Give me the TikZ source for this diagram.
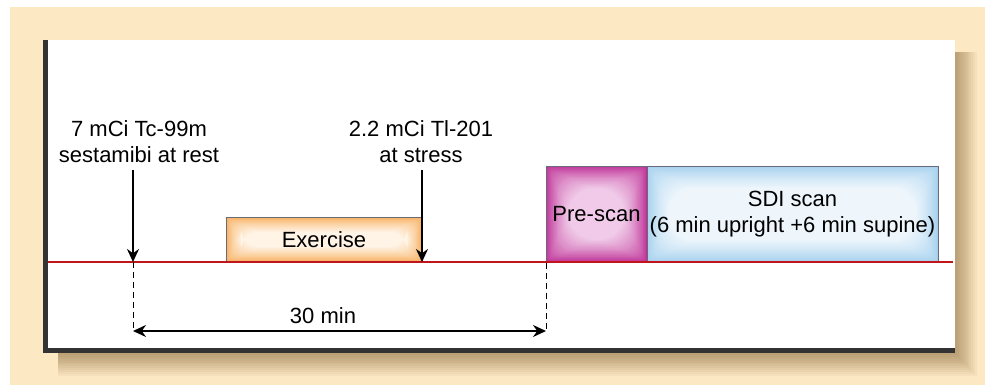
\documentclass[tikz,border=0pt]{standalone}
\usepackage{fontspec}
\setmainfont{Liberation Sans}
\usetikzlibrary{arrows.meta}
\definecolor{cream}{HTML}{FDE8C4}
\definecolor{shadowc}{HTML}{7A5A28}
\definecolor{frame}{HTML}{333333}
\definecolor{redline}{HTML}{C0161B}
\definecolor{exin}{HTML}{FFF4E6}
\definecolor{exout}{HTML}{F7AE5C}
\definecolor{psin}{HTML}{F0CAE8}
\definecolor{psout}{HTML}{BE3096}
\definecolor{sdin}{HTML}{EEF6FC}
\definecolor{sdout}{HTML}{A4D0EE}
\definecolor{boxdraw}{HTML}{6A6A78}
\tikzset{
  glow/.style n args={3}{path picture={
    \foreach \k in {0,...,20}{
      \pgfmathsetmacro\pc{100*(\k/20)^0.8}
      \pgfmathsetmacro\ins{\k*#3/20}
      \pgfmathsetmacro\rc{1.2*\ins}
      \fill[#2!\pc!#1, rounded corners=\rc pt] ([shift={(\ins,\ins)}]path picture bounding box.north west)
        rectangle ([shift={(-\ins,-\ins)}]path picture bounding box.south east);
    }}},
  txt/.style={font=\fontsize{22}{26}\selectfont, text=black, inner sep=0pt, align=center},
  phase/.style={txt, draw=boxdraw, line width=1pt, inner sep=0pt},
  arr/.style={line width=2pt, -{Stealth[length=13pt,width=12pt]}},
  dimarr/.style={line width=1.6pt, {Stealth[length=13pt,width=12pt]}-{Stealth[length=13pt,width=12pt]}},
  guide/.style={line width=0.8pt, dash pattern=on 6pt off 4pt},
}
\begin{document}
\begin{tikzpicture}[x=1pt,y=-1pt]
\useasboundingbox (0,0) rectangle (985,385);
\fill[white] (0,0) rectangle (985,385);
\fill[cream] (10,7) rectangle (985,385);
% shadow
\foreach \i in {1,...,12}
  \fill[shadowc, opacity=0.05] (58,52) rectangle (955+1.8*\i, 353+1.9*\i);
% panel
\fill[white] (43,40) rectangle (955,353);
\fill[frame] (43,40) rectangle (48,353);
\fill[frame] (43,348) rectangle (955,353);
% timeline
\coordinate (tl0) at (48,262);
\coordinate (tl1) at (953,262);
% boxes
\node[phase, glow={exout}{exin}{15}, minimum width=196pt, minimum height=45pt] (ex) at (324,239.5) {Exercise};
\node[phase, glow={psout}{psin}{22}, minimum width=101pt, minimum height=96pt] (ps) at (596.5,214) {Pre-scan};
\node[phase, glow={sdout}{sdin}{22}, minimum width=291pt, minimum height=96pt] (sdi) at (792.5,214) {SDI scan\\(6 min upright +6 min supine)};
\draw[redline, line width=2.4pt] (tl0) -- (tl1);
% labels
\node[txt, anchor=south] (rest) at (139,163) {7 mCi Tc-99m\\sestamibi at rest};
\node[txt, anchor=south] (stress) at (421,163) {2.2 mCi Tl-201\\at stress};
\node[txt, anchor=base] (dur) at (323,323) {30 min};
% injection arrows
\coordinate (a1s) at (133,170);
\coordinate (a1e) at (133,262);
\coordinate (a2s) at (422,170);
\coordinate (a2e) at (422,262);
\draw[arr] (a1s) -- (a1e);
\draw[arr] (a2s) -- (a2e);
% guides and duration
\coordinate (d1) at (133,331);
\coordinate (p1) at (546,263);
\coordinate (d2) at (546,331);
\draw[guide] (a1e) -- (d1);
\draw[guide] (p1) -- (d2);
\draw[dimarr] (d1) -- (d2);
\end{tikzpicture}
\end{document}
